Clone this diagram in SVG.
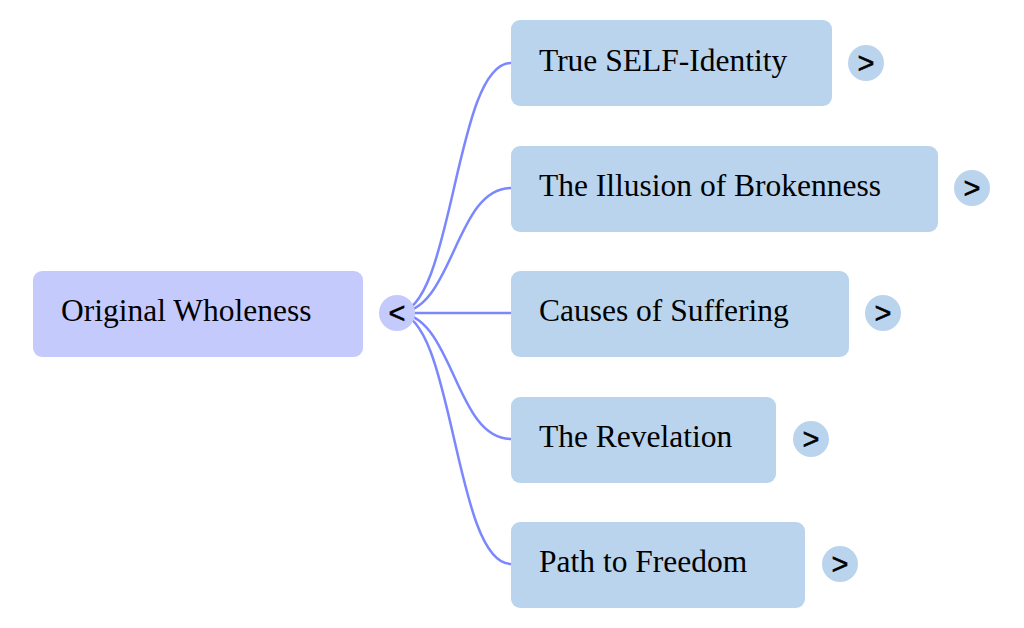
<svg xmlns="http://www.w3.org/2000/svg" width="1024" height="628" viewBox="0 0 1024 628">
<style>
.root{fill:#c5cafd}
.child{fill:#bbd4ee}
.lbl{font-family:"Liberation Serif","Times New Roman",serif;font-size:31.5px;fill:#000}
.tog{font-family:"Liberation Sans",Arial,sans-serif;font-size:29px;fill:#000;stroke:#000;stroke-width:0.5;text-anchor:middle}
.link{fill:none;stroke:#7b88fd;stroke-width:2.5}
</style>
<rect width="1024" height="628" fill="#fff"/>
<g id="connectors">
<path class="link" d="M397,313 C454,313 454,63 511,63"/>
<path class="link" d="M397,313 C454,313 454,188 511,188"/>
<path class="link" d="M397,313 L511,313"/>
<path class="link" d="M397,313 C454,313 454,439 511,439"/>
<path class="link" d="M397,313 C454,313 454,564 511,564"/>
</g>
<g id="root">
<rect class="root" x="33" y="271" width="330" height="86" rx="9"/>
<text class="lbl" x="61" y="321">Original Wholeness</text>
<circle class="root" cx="397" cy="313" r="18"/>
<text class="tog" x="397" y="323">&lt;</text>
</g>
<g id="n1">
<rect class="child" x="511" y="20" width="321" height="86" rx="9"/>
<text class="lbl" x="539" y="71">True SELF-Identity</text>
<circle class="child" cx="866" cy="63" r="18"/>
<text class="tog" x="866" y="73">&gt;</text>
</g>
<g id="n2">
<rect class="child" x="511" y="146" width="427" height="86" rx="9"/>
<text class="lbl" x="539" y="196">The Illusion of Brokenness</text>
<circle class="child" cx="972" cy="188" r="18"/>
<text class="tog" x="972" y="198">&gt;</text>
</g>
<g id="n3">
<rect class="child" x="511" y="271" width="338" height="86" rx="9"/>
<text class="lbl" x="539" y="321">Causes of Suffering</text>
<circle class="child" cx="883" cy="313" r="18"/>
<text class="tog" x="883" y="323">&gt;</text>
</g>
<g id="n4">
<rect class="child" x="511" y="397" width="265" height="86" rx="9"/>
<text class="lbl" x="539" y="447">The Revelation</text>
<circle class="child" cx="811" cy="439" r="18"/>
<text class="tog" x="811" y="449">&gt;</text>
</g>
<g id="n5">
<rect class="child" x="511" y="522" width="294" height="86" rx="9"/>
<text class="lbl" x="539" y="572">Path to Freedom</text>
<circle class="child" cx="840" cy="564" r="18"/>
<text class="tog" x="840" y="574">&gt;</text>
</g>
</svg>
